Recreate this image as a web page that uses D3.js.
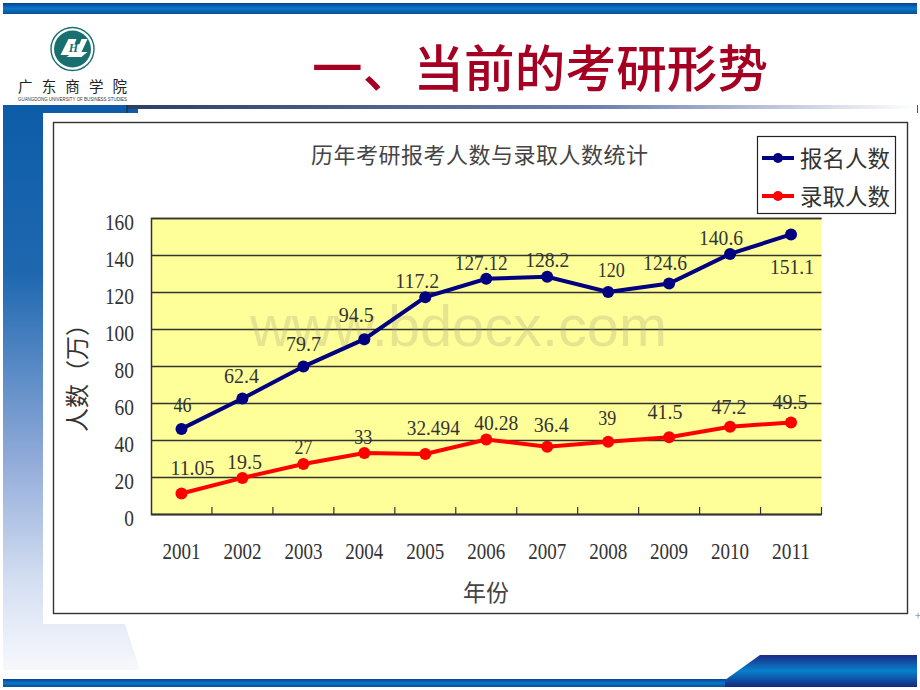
<!DOCTYPE html>
<html>
<head>
<meta charset="utf-8">
<title>当前的考研形势</title>
<script src="https://cdn.jsdelivr.net/npm/d3@7"></script>
<style>
  html, body { margin: 0; background: #fff; }
  svg { display: block; }
  text { font-family: "Noto Sans CJK SC", sans-serif; }
  .num { font-family: "Liberation Serif", serif; }
</style>
</head>
<body>
<div id="chart"></div>
<script>
const years = ["2001", "2002", "2003", "2004", "2005", "2006", "2007", "2008", "2009", "2010", "2011"];
const applicants = [46, 62.4, 79.7, 94.5, 117.2, 127.12, 128.2, 120, 124.6, 140.6, 151.1];
const admitted = [11.05, 19.5, 27, 33, 32.494, 40.28, 36.4, 39, 41.5, 47.2, 49.5];
const yTicks = [0, 20, 40, 60, 80, 100, 120, 140, 160];
const seriesNames = ["报名人数", "录取人数"];
const seriesColors = ["#000080", "#ff0000"];

// label nudges from the point, picked by eye
const applicantNudge = [[1, -24], [-1, -23], [0, -23], [-8, -24], [-8, -16], [-5, -16], [0, -17], [3, -22], [-4, -20], [-9, -16], [1, 33]];
const admittedNudge = [[11, -26], [2, -16], [0, -17], [-1, -16], [8, -26], [10, -16], [4, -22], [-1, -24], [-4, -25], [-1, -20], [-1, -20]];

// the original digits are tall and narrow, so squeeze them to this width
const digitWidth = (s, w, dot) => String(s).replace(".", "").length * w + (String(s).includes(".") ? dot : 0);

const svg = d3.select("#chart").append("svg").attr("width", 920).attr("height", 690);
const defs = svg.append("defs");

function gradient(id, stops, horizontal) {
  const g = defs.append("linearGradient").attr("id", id)
    .attr("x1", 0).attr("y1", 0)
    .attr("x2", horizontal ? 1 : 0).attr("y2", horizontal ? 0 : 1);
  stops.forEach(([o, c]) => g.append("stop").attr("offset", o).attr("stop-color", c));
}
gradient("barGrad", [[0, "#0b3f90"], [0.5, "#0879c8"], [1, "#0b4d95"]]);
gradient("tallGrad", [[0, "#1b2a86"], [0.5, "#0880cc"], [1, "#14287f"]]);
gradient("sideGrad", [[0, "#0d5ca8"], [0.3, "#1f68b0"], [0.62, "#8ea9d8"], [0.85, "#d6e0f2"], [1, "#f7f8fc"]]);
gradient("ruleGrad", [[0, "#2c3f63"], [0.6, "#6f7fb0"], [1, "#ffffff"]], true);

// slide background
svg.append("path").attr("fill", "url(#sideGrad)").attr("d", "M3,105H138V113H43V624H125L140,670H3Z");
svg.append("rect").attr("x", 3).attr("y", 3).attr("width", 914).attr("height", 11).attr("fill", "url(#barGrad)");
svg.append("rect").attr("x", 3).attr("y", 679).attr("width", 914).attr("height", 8).attr("fill", "url(#barGrad)");
svg.append("path").attr("fill", "url(#tallGrad)").attr("d", "M725,680L760,655H917V687H725Z");
svg.append("rect").attr("x", 127).attr("y", 105).attr("width", 790).attr("height", 4).attr("fill", "url(#ruleGrad)");
svg.append("rect").attr("x", 126.5).attr("y", 105).attr("width", 1).attr("height", 8).attr("fill", "#222");
svg.append("rect").attr("x", 917).attr("y", 105).attr("width", 1).attr("height", 8).attr("fill", "#555");
svg.append("rect").attr("x", 138).attr("y", 109).attr("width", 779).attr("height", 4).attr("fill", "#fff");
svg.append("rect").attr("x", 43).attr("y", 113).attr("width", 874).attr("height", 511).attr("fill", "#fff");
svg.append("text").attr("x", 918).attr("y", 620).attr("text-anchor", "middle")
  .attr("font-size", 11).attr("fill", "#999").text("+");

// logo
const logo = svg.append("g").attr("transform", "translate(72.5,49)");
logo.append("circle").attr("r", 21.5).attr("fill", "#fff").attr("stroke", "#17706f").attr("stroke-width", 1.4);
logo.append("circle").attr("r", 18.5).attr("fill", "#17706f");
logo.append("path").attr("fill", "#fff").attr("d", "M-12,6L-4,-10H4L2,-5H7L9,-10H15L9,3H15L9,8H-6L-3,6Z");
logo.append("text").attr("x", 1).attr("y", 3).attr("text-anchor", "middle")
  .attr("font-size", 12).attr("font-style", "italic").attr("font-weight", 700)
  .attr("fill", "#17706f").attr("class", "num").text("H");
svg.append("text").attr("x", 18).attr("y", 92).attr("font-size", 14.5).attr("fill", "#222")
  .attr("textLength", 109).attr("lengthAdjust", "spacing").text("广东商学院");
svg.append("text").attr("x", 18).attr("y", 100.5).attr("font-size", 5.4).attr("fill", "#333")
  .attr("textLength", 109).attr("lengthAdjust", "spacingAndGlyphs")
  .attr("style", "font-family:'Liberation Sans'").text("GUANGDONG UNIVERSITY OF BUSINESS STUDIES");

svg.append("text").attr("x", 312).attr("y", 87).attr("font-size", 50.5).attr("font-weight", 500)
  .attr("fill", "#a50021").attr("textLength", 456).attr("lengthAdjust", "spacing").text("一、当前的考研形势");

// chart frame
svg.append("rect").attr("x", 53.5).attr("y", 122.5).attr("width", 854).attr("height", 491)
  .attr("fill", "#fff").attr("stroke", "#333").attr("stroke-width", 1.4);

const plot = { left: 151, right: 821.5, top: 218, bottom: 514 };
const x = d3.scaleBand().domain(years).range([plot.left, plot.right]);
const y = d3.scaleLinear().domain([0, 160]).range([plot.bottom, plot.top]);

svg.append("rect").attr("x", plot.left).attr("y", plot.top)
  .attr("width", plot.right - plot.left).attr("height", plot.bottom - plot.top).attr("fill", "#ffff99");

// gridlines + y labels
const yAxis = svg.append("g").attr("transform", `translate(${plot.left},0)`)
  .call(d3.axisLeft(y).tickValues(yTicks).tickSize(-(plot.right - plot.left)).tickPadding(17));
yAxis.select(".domain").attr("stroke", "#333").attr("stroke-width", 1.5);
yAxis.selectAll(".tick line").attr("stroke", "#333").attr("stroke-width", 1.5);
yAxis.selectAll(".tick text").attr("class", "num").attr("font-size", 23).attr("fill", "#333")
  .attr("dy", "0.48em")
  .attr("textLength", (d) => digitWidth(d, 9.7, 0)).attr("lengthAdjust", "spacingAndGlyphs");

// x axis, ticks sit between the categories
const xAxis = svg.append("g").attr("transform", `translate(0,${plot.bottom})`)
  .call(d3.axisBottom(x).tickSize(0).tickPadding(29));
xAxis.select(".domain").attr("stroke", "#333").attr("stroke-width", 1.5);
xAxis.selectAll(".tick text").attr("class", "num").attr("font-size", 23).attr("fill", "#333")
  .attr("textLength", 38).attr("lengthAdjust", "spacingAndGlyphs");
svg.append("g").selectAll("line").data(years).enter().append("line")
  .attr("x1", (d) => x(d) + x.bandwidth()).attr("x2", (d) => x(d) + x.bandwidth())
  .attr("y1", plot.bottom).attr("y2", plot.bottom - 7)
  .attr("stroke", "#333").attr("stroke-width", 1.2);

// watermark
svg.append("text").attr("x", 250).attr("y", 346).attr("font-size", 58)
  .attr("textLength", 417).attr("lengthAdjust", "spacingAndGlyphs")
  .attr("style", "font-family:'Liberation Sans'")
  .attr("fill", "#a9a27a").attr("opacity", 0.28).text("www.bdocx.com");

// series
const line = d3.line().x((d) => x(d.year) + x.bandwidth() / 2).y((d) => y(d.value));
[[applicants, applicantNudge], [admitted, admittedNudge]].forEach(([values, nudge], s) => {
  const pts = values.map((value, i) => ({ year: years[i], value, nudge: nudge[i] }));
  const g = svg.append("g");
  g.append("path").datum(pts).attr("d", line).attr("fill", "none")
    .attr("stroke", seriesColors[s]).attr("stroke-width", 4);
  g.selectAll("circle").data(pts).enter().append("circle")
    .attr("cx", (d) => x(d.year) + x.bandwidth() / 2).attr("cy", (d) => y(d.value))
    .attr("r", 6).attr("fill", seriesColors[s]);
  g.selectAll("text").data(pts).enter().append("text")
    .attr("class", "num")
    .attr("x", (d) => x(d.year) + x.bandwidth() / 2 + d.nudge[0])
    .attr("y", (d) => y(d.value) + d.nudge[1] + 7)
    .attr("text-anchor", "middle").attr("font-size", 20)
    .attr("textLength", (d) => digitWidth(d.value, 9, 8)).attr("lengthAdjust", "spacingAndGlyphs")
    .attr("fill", "#333").text((d) => d.value);
});

// titles
svg.append("text").attr("x", 311).attr("y", 163).attr("font-size", 22).attr("fill", "#444")
  .attr("textLength", 337).attr("lengthAdjust", "spacing").text("历年考研报考人数与录取人数统计");
svg.append("text").attr("x", 486).attr("y", 601).attr("text-anchor", "middle")
  .attr("font-size", 23).attr("fill", "#444").text("年份");
svg.append("text").attr("transform", "translate(86,372) rotate(-90)").attr("text-anchor", "middle")
  .attr("font-size", 24).attr("fill", "#333").text("人数（万）");

// legend
const legend = svg.append("g");
legend.append("rect").attr("x", 757.5).attr("y", 136.5).attr("width", 138).attr("height", 77)
  .attr("fill", "#fff").attr("stroke", "#222").attr("stroke-width", 1.2);
const entry = legend.selectAll("g").data(seriesNames).enter().append("g")
  .attr("transform", (d, i) => `translate(762,${158 + i * 38})`);
entry.append("line").attr("x2", 32).attr("stroke", (d, i) => seriesColors[i]).attr("stroke-width", 4);
entry.append("circle").attr("cx", 16).attr("r", 5).attr("fill", (d, i) => seriesColors[i]);
entry.append("text").attr("x", 38).attr("y", 9).attr("font-size", 22.5).attr("fill", "#333").text((d) => d);
</script>
</body>
</html>
